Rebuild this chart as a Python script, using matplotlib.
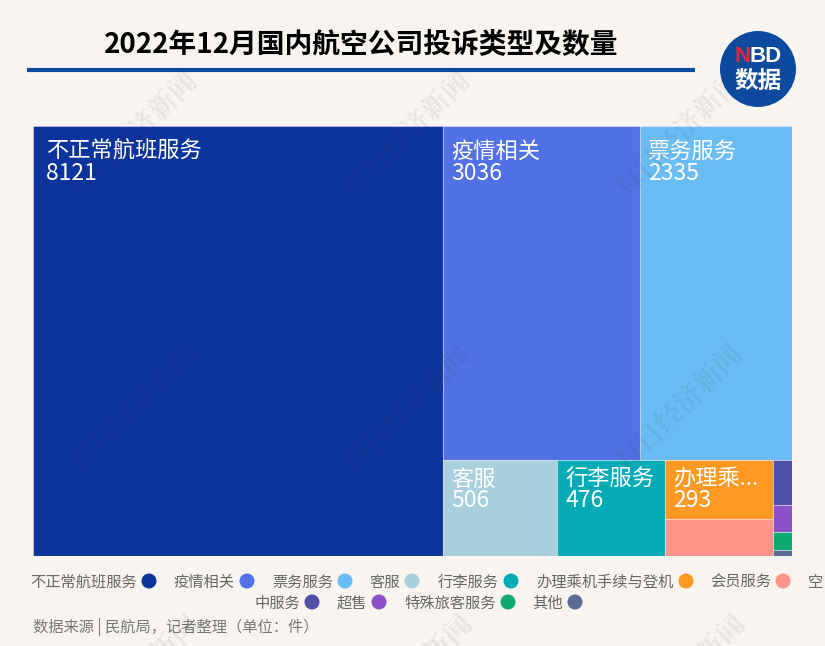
import matplotlib
matplotlib.use("Agg")
import matplotlib.pyplot as plt
from matplotlib.patches import Rectangle, Circle

plt.rcParams['font.family'] = ['Noto Sans CJK SC', 'DejaVu Sans']

W, H = 825, 646
BG = "#f8f5f1"

# values
big = ("不正常航班服务", 8121, "#0c349c")
top_row = [("疫情相关", 3036, "#5271e6"), ("票务服务", 2335, "#6abcf5")]
low_row = [("客服", 506, "#a8cfdb"), ("行李服务", 476, "#03abb7")]
mid_col = [("办理乘...", 293, "#ff9924"), ("", 184, "#ff9589")]
small_col = [("", 40, "#4e4fa9"), ("", 24, "#8c50c8"), ("", 16, "#0eaa72"), ("", 5, "#5a6b96")]

legend_line1 = ["不正常航班服务", "疫情相关", "票务服务", "客服", "行李服务", "办理乘机手续与登机", "会员服务"]
legend_colors1 = ["#0c349c", "#5271e6", "#6abcf5", "#a8cfdb", "#03abb7", "#ff9924", "#ff9589"]
legend_x1 = [149, 247, 345, 412, 511, 686, 783]
legend_line2 = ["中服务", "超售", "特殊旅客服务", "其他"]
legend_colors2 = ["#4e4fa9", "#8c50c8", "#0eaa72", "#5a6b96"]
legend_x2 = [312, 379, 508, 575]


def total(items):
    return sum(i[1] for i in items)


fig = plt.figure(figsize=(W / 100, H / 100), dpi=100, facecolor=BG)

# page layer, in pixels
bg = fig.add_axes([0, 0, 1, 1])
bg.set_xlim(0, W)
bg.set_ylim(H, 0)
bg.axis("off")

# treemap, y axis runs downwards, units are complaint counts
ax = fig.add_axes([33 / W, (H - 556) / H, 759 / W, 430 / H])
ax.axis("off")
rest = total(top_row) + total(low_row) + total(mid_col) + total(small_col)
grand = big[1] + rest
ax.set_xlim(0, grand)
ax.set_ylim(1, 0)


def tile(x, y, w, h, item, dx=0.0, dy1=25, dy2=48):
    name, val, col = item
    ax.add_patch(Rectangle((x, y), w, h, fc=col, ec=(1, 1, 1, 0.35), lw=0.8))
    if name:
        tx = ax.transData.transform((x, y))
        px = tx[0] + (dx + 8)
        py = tx[1]
        ax.annotate(name, xy=(px, py - dy1), xycoords="figure pixels", color="white",
                    fontsize=16, va="center", ha="left")
        ax.annotate(str(val), xy=(px, py - dy2), xycoords="figure pixels", color="white",
                    fontsize=16.5, va="center", ha="left")


tile(0, 0, big[1], 1, big, dx=5)

h1 = total(top_row) / rest
x = big[1]
for it in top_row:
    w = it[1] / h1
    tile(x, 0, w, h1, it)
    x += w

h2 = 1 - h1
x = big[1]
for it in low_row:
    w = it[1] / h2
    tile(x, h1, w, h2, it, dy1=19, dy2=41)
    x += w

w = total(mid_col) / h2
y = h1
for it in mid_col:
    h = it[1] / w
    tile(x, y, w, h, it, dy1=19, dy2=41)
    y += h
x += w

w = total(small_col) / h2
y = h1
for it in small_col:
    h = it[1] / w
    tile(x, y, w, h, it)
    y += h

# header
bg.text(361, 45, "2022年12月国内航空公司投诉类型及数量", fontsize=20, fontweight="bold",
        color="#000000", ha="center", va="center")
bg.plot([27, 695], [70, 70], color="#0b4a9e", lw=3, solid_capstyle="butt")

# logo
bg.add_patch(Circle((758, 69), 38, fc="#0b4a9e", ec="none"))
bg.text(743, 56, "N", color="#e0283c", fontsize=16, fontweight="bold", ha="center", va="center",
        family=["Liberation Sans"])
bg.text(766, 56, "BD", color="white", fontsize=16, fontweight="bold", ha="center", va="center",
        family=["Liberation Sans"])
bg.text(758, 81, "数据", color="white", fontsize=17, fontweight="bold", ha="center", va="center")

# legend
for names, cols, xs, yy in [(legend_line1, legend_colors1, legend_x1, 581),
                            (legend_line2, legend_colors2, legend_x2, 602)]:
    for name, col, xx in zip(names, cols, xs):
        bg.add_patch(Circle((xx, yy), 7.5, fc=col, ec="none"))
        bg.text(xx - 12, yy + 1, name, fontsize=11, color="#666666", ha="right", va="center")
bg.text(808, 582, "空", fontsize=11, color="#666666", ha="left", va="center")
bg.text(33, 627, "数据来源 | 民航局，记者整理（单位：件）", fontsize=11, color="#777777", ha="left", va="center")

# watermark sits over everything
top = fig.add_axes([0, 0, 1, 1], facecolor="none")
top.set_xlim(0, W)
top.set_ylim(H, 0)
top.axis("off")
wm_x = [135, 408, 680, 135, 408, 680, 137, 410, 683]
wm_y = [135, 135, 135, 409, 409, 408, 678, 678, 678]
for xx, yy in zip(wm_x, wm_y):
    top.text(xx, yy, "每日经济新闻", fontsize=20, color="#333333", alpha=0.08, rotation=45,
             ha="center", va="center", fontweight="bold", family=["Noto Serif CJK SC", "Noto Sans CJK SC"])

fig.savefig("out.png", dpi=100, facecolor=BG)
